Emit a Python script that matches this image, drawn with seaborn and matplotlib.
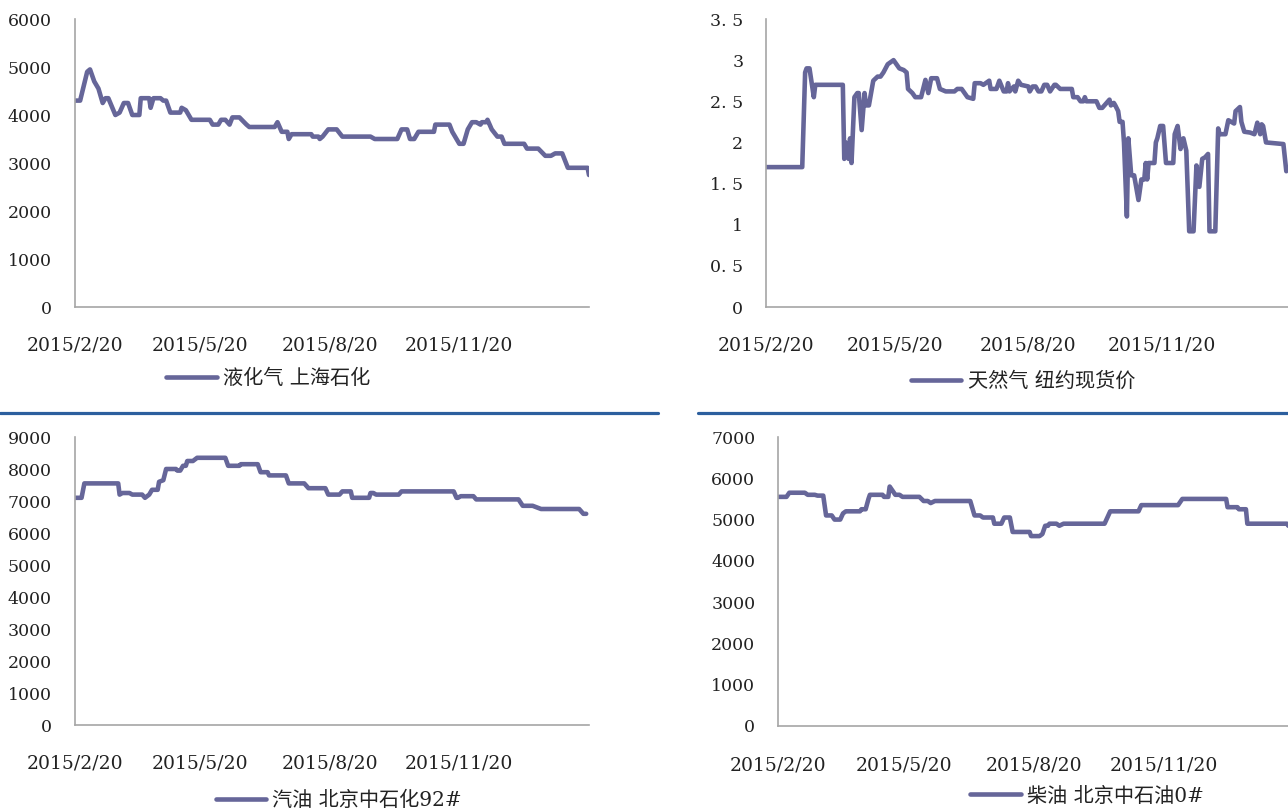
import pandas as pd
import matplotlib.pyplot as plt
import seaborn as sns
from matplotlib.lines import Line2D

# 液化气 上海石化
lpg_dates = ['2015-02-20', '2015-02-24', '2015-03-01', '2015-03-03', '2015-03-06', '2015-03-09',
             '2015-03-12', '2015-03-14', '2015-03-16', '2015-03-21', '2015-03-24', '2015-03-27',
             '2015-03-30', '2015-04-02', '2015-04-07', '2015-04-08', '2015-04-14', '2015-04-15',
             '2015-04-17', '2015-04-22', '2015-04-24', '2015-04-26', '2015-04-29', '2015-05-06',
             '2015-05-07', '2015-05-10', '2015-05-14', '2015-05-23', '2015-05-27', '2015-05-29',
             '2015-06-02', '2015-06-04', '2015-06-07', '2015-06-10', '2015-06-12', '2015-06-17',
             '2015-06-22', '2015-06-24', '2015-07-12', '2015-07-14', '2015-07-17', '2015-07-21',
             '2015-07-22', '2015-07-24', '2015-08-07', '2015-08-08', '2015-08-12', '2015-08-13',
             '2015-08-15', '2015-08-19', '2015-08-25', '2015-08-29', '2015-09-18', '2015-09-21',
             '2015-10-07', '2015-10-10', '2015-10-14', '2015-10-16', '2015-10-19', '2015-10-22',
             '2015-10-27', '2015-11-02', '2015-11-03', '2015-11-13', '2015-11-15', '2015-11-17',
             '2015-11-20', '2015-11-23', '2015-11-26', '2015-11-29', '2015-12-02', '2015-12-05',
             '2015-12-06', '2015-12-09', '2015-12-10', '2015-12-13', '2015-12-17', '2015-12-20',
             '2015-12-22', '2015-12-30', '2016-01-05', '2016-01-07', '2016-01-15', '2016-01-20',
             '2016-01-24', '2016-01-27', '2016-02-01', '2016-02-05', '2016-02-19', '2016-02-20']
lpg_values = [4300, 4300, 4900, 4950, 4700, 4550, 4250, 4350, 4350, 4000, 4050, 4250,
              4250, 4000, 4000, 4350, 4350, 4150, 4350, 4350, 4300, 4300, 4050, 4050,
              4150, 4100, 3900, 3900, 3900, 3800, 3800, 3900, 3900, 3800, 3950, 3950,
              3800, 3750, 3750, 3850, 3650, 3650, 3500, 3600, 3600, 3550, 3550, 3500,
              3550, 3700, 3700, 3550, 3550, 3500, 3500, 3700, 3700, 3500, 3500, 3650,
              3650, 3650, 3800, 3800, 3650, 3550, 3400, 3400, 3700, 3850, 3850, 3800,
              3850, 3850, 3900, 3700, 3550, 3550, 3400, 3400, 3400, 3300, 3300, 3150,
              3150, 3200, 3200, 2900, 2900, 2750]

# 天然气 纽约现货价
gas_dates = ['2015-02-20', '2015-03-17', '2015-03-19', '2015-03-20', '2015-03-22', '2015-03-25',
             '2015-03-26', '2015-04-14', '2015-04-15', '2015-04-16', '2015-04-18', '2015-04-19',
             '2015-04-20', '2015-04-22', '2015-04-24', '2015-04-25', '2015-04-27', '2015-04-29',
             '2015-04-30', '2015-05-02', '2015-05-05', '2015-05-08', '2015-05-10', '2015-05-12',
             '2015-05-15', '2015-05-19', '2015-05-23', '2015-05-26', '2015-05-28', '2015-05-29',
             '2015-06-01', '2015-06-03', '2015-06-07', '2015-06-10', '2015-06-12', '2015-06-14',
             '2015-06-18', '2015-06-20', '2015-06-24', '2015-06-30', '2015-07-02', '2015-07-05',
             '2015-07-07', '2015-07-09', '2015-07-13', '2015-07-14', '2015-07-18', '2015-07-20',
             '2015-07-24', '2015-07-25', '2015-07-29', '2015-07-31', '2015-08-03', '2015-08-05',
             '2015-08-06', '2015-08-07', '2015-08-10', '2015-08-11', '2015-08-13', '2015-08-15',
             '2015-08-20', '2015-08-21', '2015-08-23', '2015-08-25', '2015-08-27', '2015-08-29',
             '2015-08-31', '2015-09-02', '2015-09-04', '2015-09-07', '2015-09-08', '2015-09-11',
             '2015-09-19', '2015-09-20', '2015-09-23', '2015-09-25', '2015-09-27', '2015-09-28',
             '2015-09-29', '2015-10-06', '2015-10-08', '2015-10-10', '2015-10-13', '2015-10-15',
             '2015-10-16', '2015-10-18', '2015-10-19', '2015-10-21', '2015-10-22', '2015-10-24',
             '2015-10-25', '2015-10-27', '2015-10-28', '2015-10-30', '2015-11-01', '2015-11-03',
             '2015-11-04', '2015-11-06', '2015-11-08', '2015-11-09', '2015-11-10', '2015-11-11',
             '2015-11-15', '2015-11-16', '2015-11-17', '2015-11-19', '2015-11-21', '2015-11-23',
             '2015-11-28', '2015-11-29', '2015-12-01', '2015-12-03', '2015-12-05', '2015-12-07',
             '2015-12-09', '2015-12-12', '2015-12-14', '2015-12-16', '2015-12-18', '2015-12-20',
             '2015-12-22', '2015-12-23', '2015-12-27', '2015-12-29', '2015-12-30', '2016-01-03',
             '2016-01-05', '2016-01-09', '2016-01-10', '2016-01-13', '2016-01-14', '2016-01-16',
             '2016-01-20', '2016-01-23', '2016-01-25', '2016-01-27', '2016-01-28', '2016-01-29',
             '2016-01-31', '2016-02-12', '2016-02-14']
gas_values = [1.70, 1.70, 2.85, 2.90, 2.90, 2.55, 2.70, 2.70, 1.80, 2.00, 1.80, 2.05,
              1.75, 2.55, 2.60, 2.60, 2.15, 2.60, 2.45, 2.45, 2.75, 2.80, 2.80, 2.85,
              2.95, 3.00, 2.90, 2.88, 2.85, 2.65, 2.60, 2.55, 2.55, 2.76, 2.60, 2.78,
              2.78, 2.65, 2.62, 2.62, 2.65, 2.65, 2.60, 2.55, 2.53, 2.72, 2.72, 2.70,
              2.75, 2.65, 2.65, 2.75, 2.62, 2.62, 2.72, 2.62, 2.68, 2.62, 2.75, 2.70,
              2.68, 2.62, 2.68, 2.68, 2.62, 2.62, 2.70, 2.70, 2.62, 2.70, 2.70, 2.65,
              2.65, 2.55, 2.55, 2.50, 2.50, 2.55, 2.50, 2.50, 2.42, 2.42, 2.48, 2.52,
              2.45, 2.48, 2.45, 2.38, 2.25, 2.25, 2.00, 1.10, 2.05, 1.60, 1.60, 1.40,
              1.30, 1.55, 1.55, 1.75, 1.55, 1.75, 1.75, 2.00, 2.05, 2.20, 2.20, 1.75,
              1.75, 2.10, 2.20, 1.92, 2.05, 1.90, 0.92, 0.92, 1.72, 1.46, 1.80, 1.82,
              1.86, 0.92, 0.92, 2.17, 2.10, 2.10, 2.27, 2.23, 2.38, 2.43, 2.25, 2.13,
              2.12, 2.10, 2.24, 2.10, 2.22, 2.20, 2.00, 1.98, 1.65]

# 汽油 北京中石化92#
gasoline_dates = ['2015-02-20', '2015-02-25', '2015-02-27', '2015-03-23', '2015-03-24', '2015-03-26',
                  '2015-03-31', '2015-04-02', '2015-04-09', '2015-04-11', '2015-04-14', '2015-04-16',
                  '2015-04-20', '2015-04-21', '2015-04-24', '2015-04-26', '2015-05-03', '2015-05-04',
                  '2015-05-06', '2015-05-08', '2015-05-10', '2015-05-11', '2015-05-15', '2015-05-18',
                  '2015-06-07', '2015-06-09', '2015-06-17', '2015-06-18', '2015-06-30', '2015-07-02',
                  '2015-07-07', '2015-07-08', '2015-07-20', '2015-07-22', '2015-08-02', '2015-08-05',
                  '2015-08-17', '2015-08-19', '2015-08-27', '2015-08-29', '2015-09-04', '2015-09-05',
                  '2015-09-17', '2015-09-18', '2015-09-20', '2015-09-22', '2015-10-08', '2015-10-10',
                  '2015-11-16', '2015-11-18', '2015-11-19', '2015-11-21', '2015-11-30', '2015-12-02',
                  '2016-01-01', '2016-01-04', '2016-01-11', '2016-01-17', '2016-02-13', '2016-02-16',
                  '2016-02-18']
gasoline_values = [7100, 7100, 7550, 7550, 7200, 7250, 7250, 7200, 7200, 7100, 7200, 7350,
                   7350, 7600, 7650, 8000, 8000, 7950, 7950, 8100, 8100, 8250, 8250, 8350,
                   8350, 8100, 8100, 8150, 8150, 7900, 7900, 7800, 7800, 7550, 7550, 7400,
                   7400, 7200, 7200, 7300, 7300, 7100, 7100, 7250, 7250, 7200, 7200, 7300,
                   7300, 7100, 7100, 7150, 7150, 7050, 7050, 6850, 6850, 6750, 6750, 6600,
                   6600]

# 柴油 北京中石油0#
diesel_dates = ['2015-02-20', '2015-02-26', '2015-02-28', '2015-03-11', '2015-03-13', '2015-03-18',
                '2015-03-20', '2015-03-24', '2015-03-26', '2015-03-30', '2015-04-01', '2015-04-05',
                '2015-04-07', '2015-04-09', '2015-04-19', '2015-04-20', '2015-04-23', '2015-04-25',
                '2015-04-26', '2015-05-05', '2015-05-06', '2015-05-09', '2015-05-10', '2015-05-12',
                '2015-05-14', '2015-05-17', '2015-05-19', '2015-05-31', '2015-06-03', '2015-06-06',
                '2015-06-08', '2015-06-11', '2015-07-06', '2015-07-09', '2015-07-13', '2015-07-15',
                '2015-07-22', '2015-07-23', '2015-07-28', '2015-07-30', '2015-08-03', '2015-08-05',
                '2015-08-17', '2015-08-18', '2015-08-24', '2015-08-26', '2015-08-28', '2015-08-30',
                '2015-08-31', '2015-09-05', '2015-09-07', '2015-09-10', '2015-10-09', '2015-10-11',
                '2015-10-13', '2015-11-02', '2015-11-04', '2015-11-30', '2015-12-03', '2016-01-03',
                '2016-01-04', '2016-01-11', '2016-01-12', '2016-01-17', '2016-01-18', '2016-02-15',
                '2016-02-16']
diesel_values = [5550, 5550, 5650, 5650, 5600, 5600, 5580, 5580, 5100, 5100, 5000, 5000,
                 5150, 5200, 5200, 5250, 5250, 5500, 5600, 5600, 5550, 5550, 5800, 5700,
                 5600, 5600, 5550, 5550, 5450, 5450, 5400, 5450, 5450, 5100, 5100, 5050,
                 5050, 4900, 4900, 5050, 5050, 4700, 4700, 4600, 4600, 4650, 4850, 4850,
                 4900, 4900, 4850, 4900, 4900, 5050, 5200, 5200, 5350, 5350, 5500, 5500,
                 5300, 5300, 5250, 5250, 4900, 4900, 4850]

date_ticks = ['2015-02-20', '2015-05-20', '2015-08-20', '2015-11-20']
date_labels = ['2015/2/20', '2015/5/20', '2015/8/20', '2015/11/20']

W, H = 1288, 811
LINE = '#666699'

sns.set_style('white')
plt.rcParams['font.family'] = ['DejaVu Serif', 'Noto Sans CJK SC']

fig = plt.figure(figsize=(W / 100, H / 100), dpi=100)


def px_rect(left, right, top, bottom):
    return [left / W, 1 - bottom / H, (right - left) / W, (bottom - top) / H]


panels = [
    (lpg_dates, lpg_values, '液化气 上海石化', range(0, 7000, 1000),
     ['0', '1000', '2000', '3000', '4000', '5000', '6000'],
     px_rect(74.5, 589, 19, 307), (268, 378)),
    (gas_dates, gas_values, '天然气 纽约现货价', [0, 0.5, 1, 1.5, 2, 2.5, 3, 3.5],
     ['0', '0. 5', '1', '1. 5', '2', '2. 5', '3', '3. 5'],
     px_rect(766, 1295, 19, 307), (1023, 381)),
    (gasoline_dates, gasoline_values, '汽油 北京中石化92#', range(0, 10000, 1000),
     ['0', '1000', '2000', '3000', '4000', '5000', '6000', '7000', '8000', '9000'],
     px_rect(74.5, 589, 437, 725), (339, 800)),
    (diesel_dates, diesel_values, '柴油 北京中石油0#', range(0, 8000, 1000),
     ['0', '1000', '2000', '3000', '4000', '5000', '6000', '7000'],
     px_rect(778, 1294, 437, 726), (1087, 796)),
]

for dates, values, name, yticks, ylabels, rect, (lx, ly) in panels:
    ax = fig.add_axes(rect)
    df = pd.DataFrame({'date': pd.to_datetime(dates), 'value': values})
    sns.lineplot(data=df, x='date', y='value', ax=ax, color=LINE, linewidth=3.3,
                 label=name, sort=False, estimator=None)

    yt = list(yticks)
    ax.set_ylim(yt[0], yt[-1])
    ax.set_yticks(yt)
    ax.set_yticklabels(ylabels)
    ax.set_xlim(pd.Timestamp('2015-02-20'), pd.Timestamp('2016-02-20'))
    ax.set_xticks(pd.to_datetime(date_ticks))
    ax.set_xticklabels(date_labels)
    ax.set_xlabel('')
    ax.set_ylabel('')

    for side in ['top', 'right']:
        ax.spines[side].set_visible(False)
    for side in ['left', 'bottom']:
        ax.spines[side].set_color('#A6A6A6')
        ax.spines[side].set_linewidth(1.2)
    ax.tick_params(axis='y', length=4.3, width=1, color='#808080', pad=12,
                   labelsize=12.5, labelcolor='#222222')
    ax.tick_params(axis='x', length=3.6, width=1, color='#808080', pad=18,
                   labelsize=13.5, labelcolor='#222222')

    ax.legend(loc='center', bbox_to_anchor=(lx / W, 1 - ly / H), bbox_transform=fig.transFigure,
              frameon=False, handlelength=2.5, handletextpad=0.3, fontsize=14.5,
              labelcolor='#222222')

# blue separators between the rows
fig.add_artist(Line2D([0, 658 / W], [1 - 413 / H] * 2, color='#2C5F9E', lw=2.3,
                      transform=fig.transFigure))
fig.add_artist(Line2D([698 / W, 1], [1 - 413 / H] * 2, color='#2C5F9E', lw=2.3,
                      transform=fig.transFigure))

fig.savefig('out.png', dpi=100)
